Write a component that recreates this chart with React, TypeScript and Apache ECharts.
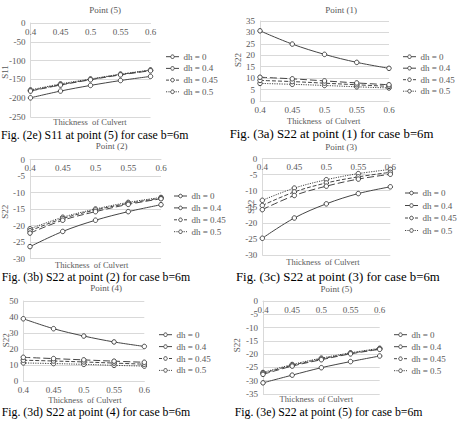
import React, { useEffect, useRef } from "react";
import * as echarts from "echarts";

// Culvert wall thickness (m) on the category axis
const thickness = ["0.4", "0.45", "0.5", "0.55", "0.6"];
const dhNames = ["dh = 0", "dh = 0.4", "dh = 0.45", "dh = 0.5"];

// Stress values, one row per dh case (dh = 0, 0.4, 0.45, 0.5)
const s11Point5 = [
  [-199, -181, -166, -153, -142],
  [-181, -165, -151, -138, -127],
  [-180, -164, -150, -137, -126],
  [-178, -162, -149, -136, -125],
];
const s22Point1 = [
  [30.7, 24.9, 20.4, 16.9, 14.3],
  [10.4, 9.7, 8.8, 7.9, 7.1],
  [9.0, 8.5, 7.8, 7.1, 6.4],
  [7.7, 7.3, 6.8, 6.2, 5.7],
];
const s22Point2 = [
  [-26.4, -21.8, -18.4, -15.8, -13.7],
  [-22.3, -18.4, -15.8, -13.6, -11.9],
  [-21.6, -17.9, -15.3, -13.3, -11.7],
  [-21.0, -17.5, -15.0, -13.0, -11.5],
];
const s22Point3 = [
  [-24.8, -18.5, -14.1, -10.9, -8.8],
  [-15.9, -11.5, -8.6, -6.4, -4.9],
  [-14.6, -10.4, -7.6, -5.7, -4.3],
  [-13.0, -9.2, -6.6, -4.7, -3.4],
];
const s22Point4 = [
  [38.9, 32.7, 28.1, 24.4, 21.6],
  [14.8, 14.0, 13.2, 12.4, 11.7],
  [13.0, 12.5, 11.9, 11.2, 10.5],
  [11.3, 10.9, 10.4, 9.8, 9.3],
];
const s22Point5 = [
  [-30.8, -27.9, -25.1, -22.8, -20.7],
  [-27.6, -24.5, -22.1, -19.9, -18.2],
  [-27.2, -24.2, -21.8, -19.7, -18.0],
  [-26.9, -23.9, -21.5, -19.5, -17.8],
];

const FONT = "Liberation Serif";
const GREY_TEXT = "#595959";
const LINE = "#454545";
const GRID_LINE = "#d9d9d9";
const dashes: any[] = ["solid", [7, 3], [4, 2], [1.2, 1.2]];
const legendDashes: (number[] | null)[] = [null, [5, 3], [3, 2], [1.2, 1.2]];

type Panel = {
  values: number[][];
  grid: { left: number; top: number; width: number; height: number };
  yMin: number;
  yMax: number;
  yStep: number;
  axisTop: boolean;
  title: string;
  titlePos: [number, number];
  yName: string;
  yNamePos: [number, number];
  xTitlePos: [number, number];
  caption: string;
  captionPos: [number, number];
  captionSize: number;
  legend: [number, number, number];
};

const panels: Panel[] = [
  {
    values: s11Point5,
    grid: { left: 30.5, top: 23, width: 120, height: 94 },
    yMin: -250, yMax: 0, yStep: 50, axisTop: true,
    title: "Point (5)", titlePos: [105, 10],
    yName: "S11", yNamePos: [5, 72],
    xTitlePos: [90, 122],
    caption: "Fig. (2e) S11 at point (5) for case b=6m", captionPos: [1, 134.5], captionSize: 11.8,
    legend: [166, 56.7, 11.7],
  },
  {
    values: s22Point1,
    grid: { left: 260, top: 21, width: 129, height: 80 },
    yMin: 0, yMax: 35, yStep: 5, axisTop: false,
    title: "Point (1)", titlePos: [341, 10],
    yName: "S22", yNamePos: [238, 60],
    xTitlePos: [323.7, 120.7],
    caption: "Fig. (3a) S22 at point (1) for case b=6m", captionPos: [229.7, 133.5], captionSize: 12.8,
    legend: [403, 56.7, 11.5],
  },
  {
    values: s22Point2,
    grid: { left: 30, top: 159.5, width: 131, height: 99 },
    yMin: -30, yMax: 0, yStep: 5, axisTop: true,
    title: "Point (2)", titlePos: [111.7, 146],
    yName: "S22", yNamePos: [5, 211.7],
    xTitlePos: [91.7, 265],
    caption: "Fig. (3b) S22 at point (2) for case b=6m", captionPos: [1.7, 276.7], captionSize: 11.8,
    legend: [174, 196, 11.9],
  },
  {
    values: s22Point3,
    grid: { left: 262.3, top: 158.5, width: 128, height: 96.5 },
    yMin: -30, yMax: 0, yStep: 5, axisTop: true,
    title: "Point (3)", titlePos: [341, 147],
    yName: "S22", yNamePos: [251.3, 206.7],
    xTitlePos: [323, 261.7],
    caption: "Fig. (3c) S22 at point (3) for case b=6m", captionPos: [236, 276.7], captionSize: 12.8,
    legend: [405, 193, 12.5],
  },
  {
    values: s22Point4,
    grid: { left: 23.3, top: 301, width: 121, height: 80 },
    yMin: 0, yMax: 50, yStep: 10, axisTop: false,
    title: "Point (4)", titlePos: [106, 288],
    yName: "S22", yNamePos: [6, 340.3],
    xTitlePos: [85, 400.3],
    caption: "Fig. (3d) S22 at point (4) for case b=6m", captionPos: [1.7, 412], captionSize: 11.8,
    legend: [159, 334.7, 11.9],
  },
  {
    values: s22Point5,
    grid: { left: 263, top: 301, width: 116.7, height: 93 },
    yMin: -35, yMax: 0, yStep: 5, axisTop: true,
    title: "Point (5)", titlePos: [336.3, 288.7],
    yName: "S22", yNamePos: [237.3, 345.3],
    xTitlePos: [316.3, 399.3],
    caption: "Fig. (3e) S22 at point (5) for case b=6m", captionPos: [234.7, 412], captionSize: 11.8,
    legend: [394, 334.7, 12],
  },
];

function text(x: number, y: number, str: string, size: number, fill: string, align = "center", rotation = 0) {
  return {
    type: "text",
    x,
    y,
    rotation,
    silent: true,
    style: {
      text: str,
      fontSize: size,
      fontFamily: FONT,
      fill,
      align,
      verticalAlign: "middle",
    },
  };
}

// Small key beside each panel: dashed sample line, hollow marker, label
function legendKey(lx: number, cy: number, k: number) {
  const dash = legendDashes[k];
  return [
    {
      type: "line",
      silent: true,
      shape: { x1: lx, y1: cy, x2: lx + 13, y2: cy },
      style: { stroke: LINE, lineWidth: 1, lineDash: dash || undefined },
    },
    {
      type: "circle",
      silent: true,
      z: 2,
      shape: { cx: lx + 6.5, cy, r: 1.8 },
      style: { fill: "#ffffff", stroke: LINE, lineWidth: 1 },
    },
    text(lx + 17.5, cy, dhNames[k], 9, GREY_TEXT, "left"),
  ];
}

function buildOption() {
  const grid: any[] = [];
  const xAxis: any[] = [];
  const yAxis: any[] = [];
  const series: any[] = [];
  const graphic: any[] = [];

  panels.forEach((p, i) => {
    grid.push({ ...p.grid, containLabel: false });
    xAxis.push({
      type: "category",
      gridIndex: i,
      data: thickness,
      boundaryGap: false,
      position: p.axisTop ? "top" : "bottom",
      axisLine: { show: true, lineStyle: { color: GRID_LINE, width: 1 } },
      axisTick: { show: false },
      axisLabel: {
        inside: p.axisTop,
        margin: 4,
        fontSize: 9,
        fontFamily: FONT,
        color: GREY_TEXT,
      },
      splitLine: { show: false },
    });
    yAxis.push({
      type: "value",
      gridIndex: i,
      min: p.yMin,
      max: p.yMax,
      interval: p.yStep,
      axisLine: { show: true, lineStyle: { color: GRID_LINE, width: 1 } },
      axisTick: { show: false },
      axisLabel: { margin: 5, fontSize: 9, fontFamily: FONT, color: GREY_TEXT },
      splitLine: { show: true, lineStyle: { color: GRID_LINE, width: 1 } },
    });
    p.values.forEach((vals, k) => {
      series.push({
        type: "line",
        name: dhNames[k],
        xAxisIndex: i,
        yAxisIndex: i,
        data: vals,
        smooth: 0.35,
        symbol: "circle",
        symbolSize: 4.5,
        lineStyle: { color: LINE, width: 1, type: dashes[k] },
        itemStyle: { color: "#ffffff", borderColor: LINE, borderWidth: 1 },
        z: 10 - k,
      });
    });
    const [lx, ly, gap] = p.legend;
    dhNames.forEach((_, k) => graphic.push(...legendKey(lx, ly + k * gap, k)));
    graphic.push(text(p.titlePos[0], p.titlePos[1], p.title, 9, GREY_TEXT));
    graphic.push(text(p.xTitlePos[0], p.xTitlePos[1], "Thickness  of Culvert", 8.5, GREY_TEXT));
    graphic.push(text(p.yNamePos[0], p.yNamePos[1], p.yName, 9, GREY_TEXT, "center", Math.PI / 2));
    graphic.push(text(p.captionPos[0], p.captionPos[1], p.caption, p.captionSize, "#000000", "left"));
  });

  return {
    animation: false,
    backgroundColor: "#ffffff",
    grid,
    xAxis,
    yAxis,
    series,
    graphic,
  };
}

export default function App() {
  const ref = useRef<HTMLDivElement>(null);
  useEffect(() => {
    if (!ref.current) return;
    const chart = echarts.init(ref.current, undefined, { renderer: "svg" });
    chart.setOption(buildOption() as any);
    return () => chart.dispose();
  }, []);
  return (
    <div
      ref={ref}
      style={{ position: "absolute", left: 0, top: 0, width: 458, height: 428, background: "#fff" }}
    />
  );
}
